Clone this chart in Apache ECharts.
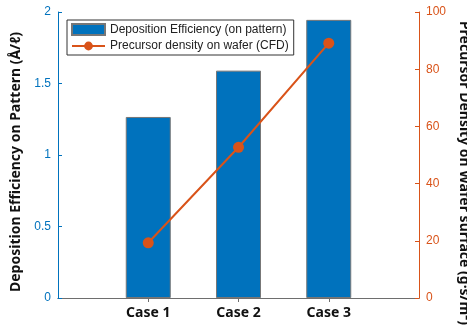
<!DOCTYPE html>
<html><head><meta charset="utf-8">
<script src="https://cdn.jsdelivr.net/npm/echarts@6/dist/echarts.min.js"></script>
<style>html,body{margin:0;padding:0;background:#fff}#c{width:467px;height:336px}</style>
</head><body><div id="c"></div>
<script>
const categories = ['Case 1', 'Case 2', 'Case 3'];
const efficiency = [1.266, 1.59, 1.945];
const precursor = [19.3, 52.7, 89.1];
const leftTicks = [0, 0.5, 1, 1.5, 2];
const rightTicks = [0, 20, 40, 60, 80, 100];
const barName = 'Deposition Efficiency (on pattern)';
const lineName = 'Precursor density on wafer (CFD)';
const leftTitle = 'Deposition Efficiency on Pattern (Å/ℓ)';
const rightTitle = 'Precursor Density on Wafer surface (g·s/m²)';

const axisCats = [''].concat(categories, ['']);
const pad = arr => [null].concat(arr, [null]);
const BLUE = '#0072BD', ORANGE = '#D95319', GRAY = '#6e6e6e';
const titleFont = '"Noto Sans", "Open Sans", sans-serif';
const tickOnCats = (i) => i >= 1 && i <= categories.length;

const chart = echarts.init(document.getElementById('c'));
chart.setOption({
  animation: false,
  grid: { left: 58, right: 48, top: 12, bottom: 38, containLabel: false, outerBoundsMode: 'none' },
  legend: {
    orient: 'vertical', left: 67, top: 20,
    borderColor: '#333', borderWidth: 1, padding: [3, 5, 3, 4],
    itemWidth: 33, itemHeight: 11, itemGap: 4,
    textStyle: { fontFamily: 'Liberation Sans, Arial', fontSize: 12, color: '#222' },
    data: [{ name: barName, icon: 'rect' }, { name: lineName }]
  },
  xAxis: [{
    type: 'category', data: axisCats, boundaryGap: false,
    axisLine: { lineStyle: { color: GRAY, width: 1 } },
    axisTick: { inside: true, length: 4, interval: tickOnCats, lineStyle: { color: GRAY } },
    axisLabel: { interval: 0, margin: 8, color: '#111', fontWeight: 'bold', fontSize: 14, fontFamily: titleFont },
    splitLine: { show: false }
  }, {
    type: 'category', data: axisCats, boundaryGap: false, position: 'top',
    axisLine: { lineStyle: { color: GRAY, width: 1 } },
    axisTick: { inside: true, length: 4, interval: tickOnCats, lineStyle: { color: GRAY } },
    axisLabel: { show: false }
  }],
  yAxis: [{
    type: 'value', min: leftTicks[0], max: leftTicks[leftTicks.length - 1], interval: 0.5,
    name: leftTitle, nameLocation: 'middle', nameGap: 25,
    nameTextStyle: { fontFamily: titleFont, fontWeight: 'bold', fontSize: 14, color: '#111', padding: [0, 14, 0, 0] },
    axisLine: { show: true, lineStyle: { color: BLUE } },
    axisTick: { show: true, inside: true, length: 4, lineStyle: { color: BLUE } },
    axisLabel: { color: BLUE, fontSize: 12, fontFamily: 'Liberation Sans, Arial', margin: 7 },
    splitLine: { show: false }
  }, {
    type: 'value', min: rightTicks[0], max: rightTicks[rightTicks.length - 1], interval: 20,
    position: 'right',
    name: rightTitle, nameLocation: 'middle', nameGap: 31, nameRotate: -90,
    nameTextStyle: { fontFamily: titleFont, fontWeight: 'bold', fontSize: 14, color: '#111', padding: [0, 0, 0, 36] },
    axisLine: { show: true, lineStyle: { color: ORANGE } },
    axisTick: { show: true, inside: true, length: 4, lineStyle: { color: ORANGE } },
    axisLabel: { color: ORANGE, fontSize: 12, fontFamily: 'Liberation Sans, Arial', margin: 7 },
    splitLine: { show: false }
  }],
  series: [{
    name: barName, type: 'bar', xAxisIndex: 0, yAxisIndex: 0,
    data: pad(efficiency), barWidth: 45,
    itemStyle: { color: BLUE, borderColor: '#777', borderWidth: 1 }
  }, {
    name: lineName, type: 'line', xAxisIndex: 0, yAxisIndex: 1,
    data: pad(precursor), symbol: 'circle', symbolSize: 11,
    lineStyle: { color: ORANGE, width: 2 }, itemStyle: { color: ORANGE }
  }]
});
</script></body></html>
